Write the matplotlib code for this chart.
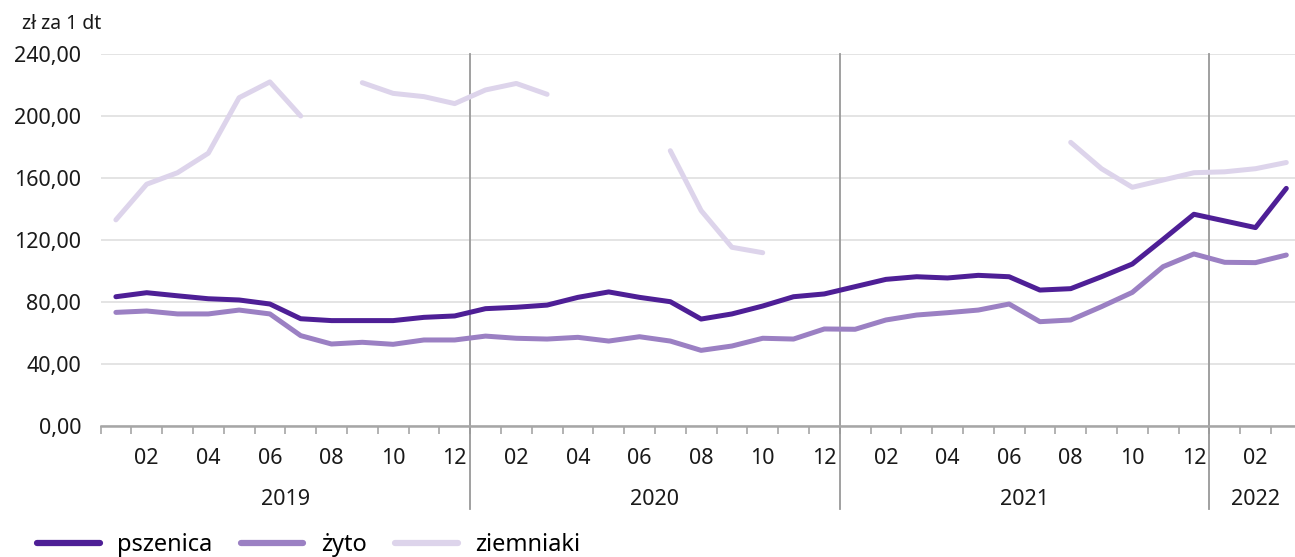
import numpy as np
import matplotlib
matplotlib.use("Agg")
import matplotlib.pyplot as plt

months = ["01","02","03","04","05","06","07","08","09","10","11","12"] * 3 + ["01","02","03"]
years = ["2019", "2020", "2021", "2022"]
year_counts = [12, 12, 12, 3]

pszenica = [83.4, 86.0, 84.0, 82.1, 81.3, 78.7, 69.2, 68.0, 68.0, 68.0, 70.1, 71.0,
            75.7, 76.6, 78.0, 83.0, 86.5, 83.0, 80.2, 69.0, 72.3, 77.4, 83.4, 85.2,
            89.9, 94.6, 96.3, 95.5, 97.2, 96.3, 87.7, 88.6, 96.3, 104.5, 120.4, 136.6,
            132.3, 128.0, 153.3]
zyto = [73.3, 74.2, 72.3, 72.3, 74.8, 72.3, 58.3, 52.9, 54.0, 52.7, 55.5, 55.5,
        58.0, 56.6, 56.1, 57.2, 54.8, 57.6, 54.8, 48.8, 51.6, 56.6, 56.1, 62.6,
        62.4, 68.4, 71.6, 73.1, 74.8, 78.7, 67.3, 68.4, 77.0, 86.2, 102.8, 111.0,
        105.6, 105.4, 110.3]
nan = np.nan
ziemniaki = [133.0, 156.0, 163.4, 176.0, 211.8, 222.0, 200.0, nan, 221.5, 214.6, 212.5, 208.0,
             216.8, 221.0, 214.0, nan, nan, nan, 177.6, 139.0, 115.3, 111.8, nan, nan,
             nan, nan, nan, nan, nan, nan, nan, 183.0, 166.0, 154.0, 158.7, 163.4,
             164.0, 166.0, 170.0]

series = [("pszenica", pszenica, "#4e1f96"),
          ("żyto", zyto, "#9b80c3"),
          ("ziemniaki", ziemniaki, "#ddd4eb")]

plt.rcParams['font.family'] = ['Noto Sans', 'DejaVu Sans']

W, H = 1295, 557
n = len(pszenica)
left_px, step_px = 100.5, 30.8
fig = plt.figure(figsize=(W/100, H/100), dpi=100)
ax = fig.add_axes([left_px/W, 1 - 426/H, n*step_px/W, (426-54)/H])

x = np.arange(n)
for name, vals, col in reversed(series):
    ax.plot(x, np.array(vals, dtype=float), color=col, lw=3.6, label=name,
            solid_capstyle='round', solid_joinstyle='round', zorder=3)

ax.set_xlim(-0.5, n - 0.5)
ax.set_ylim(0, 240)
ax.set_yticks(np.arange(0, 241, 40))
ax.set_yticklabels([f"{v:.2f}".replace(".", ",") for v in np.arange(0, 241, 40)], fontsize=15.5)
ax.grid(axis='y', color='#dcdcdc', lw=1.1, zorder=0)
ax.set_axisbelow(True)
for s in ['left', 'right', 'top']:
    ax.spines[s].set_visible(False)
ax.spines['bottom'].set_color('#a6a6a6')
ax.spines['bottom'].set_linewidth(1.8)
ax.tick_params(axis='y', length=0, pad=14, labelcolor='#1a1a1a')

ax.set_xticks(np.arange(-0.5, n, 1.0), minor=True)
ax.tick_params(axis='x', which='minor', length=6, color='#a6a6a6', width=1.2)
lab_pos = [i for i in range(n) if int(months[i]) % 2 == 0]
ax.set_xticks(lab_pos)
ax.set_xticklabels([months[i] for i in lab_pos], fontsize=15.5, color='#1a1a1a')
ax.tick_params(axis='x', which='major', length=0, pad=16)

trans = ax.get_xaxis_transform()
start = 0
for yr, cnt in zip(years, year_counts):
    mid = start + (cnt - 1) / 2
    ax.text(mid, -0.197, yr, transform=trans, ha='center', va='center', fontsize=15.5, color='#1a1a1a')
    if start > 0:
        ax.plot([start - 0.5, start - 0.5], [1.0, -0.222], transform=trans, color='#999999',
                lw=1.3, clip_on=False, zorder=2)
    start += cnt

fig.text(22/W, 1 - 24/H, "zł za 1 dt", fontsize=14, va='center', ha='left', color='#1a1a1a')

handles, labels = ax.get_legend_handles_labels()
handles, labels = handles[::-1], labels[::-1]
leg = fig.legend(handles, labels, loc='center left', bbox_to_anchor=(37/W, 1 - 545/H),
                 ncol=3, frameon=False, fontsize=17, handlelength=2.65,
                 handletextpad=0.75, columnspacing=1.2, borderaxespad=0, borderpad=0)
for h in leg.get_lines():
    h.set_linewidth(4.5)
    h.set_solid_capstyle('round')

fig.savefig("out.png", dpi=100, facecolor='white')
